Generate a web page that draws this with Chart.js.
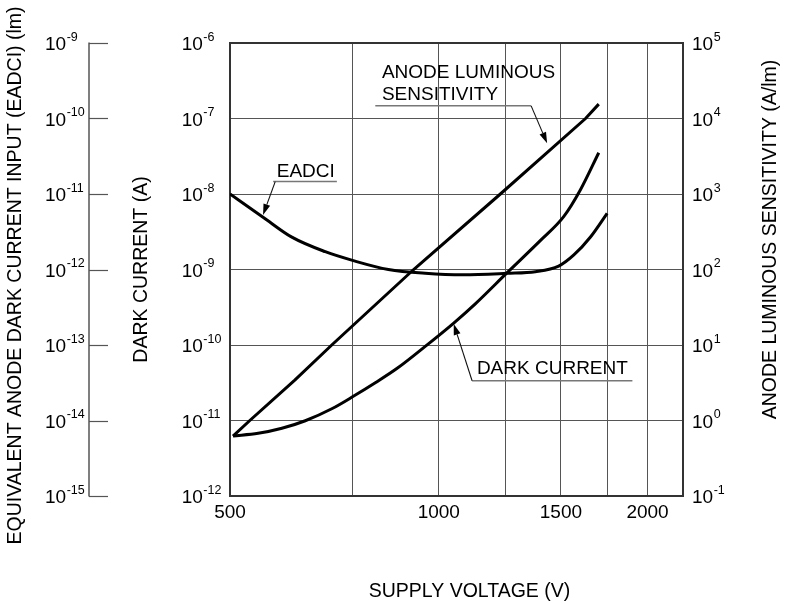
<!DOCTYPE html>
<html>
<head>
<meta charset="utf-8">
<script src="https://cdn.jsdelivr.net/npm/chart.js@4/dist/chart.umd.min.js"></script>
<style>
html,body{margin:0;padding:0;background:#fff;}
#wrap{width:788px;height:604px;}
</style>
</head>
<body>
<div id="wrap"><canvas id="c" width="788" height="604"></canvas></div>
<script>
// ---------- data ----------
const X_GRID = [500, 750, 1000, 1250, 1500, 1750, 2000, 2250];
const X_LABELS = [500, 1000, 1500, 2000];
const DARK_DECADES = [1e-12, 1e-11, 1e-10, 1e-9, 1e-8, 1e-7, 1e-6];
const EADCI_DECADES = [1e-15, 1e-14, 1e-13, 1e-12, 1e-11, 1e-10, 1e-9];
const ALS_DECADES = [1e-1, 1e0, 1e1, 1e2, 1e3, 1e4, 1e5];

// Anode luminous sensitivity (A/lm)
const alsVoltage = [505, 534, 620, 701, 920, 1227, 1628, 1701];
const alsValues  = [0.62, 1.0, 3.43, 10, 100, 1000, 10000, 15500];

// Dark current (A)
const darkVoltage = [505, 549, 594, 642, 701, 753, 810, 871, 960, 1050, 1129, 1254, 1402, 1514, 1600, 1701];
const darkValues  = [6.24e-12, 6.76e-12, 7.89e-12, 9.93e-12, 1.43e-11, 2.09e-11, 3.16e-11, 4.91e-11, 9.89e-11, 1.94e-10, 3.51e-10, 9.02e-10, 2.43e-9, 5.01e-9, 1.13e-8, 3.52e-8];

// EADCI (lm)
const eadciVoltage = [500, 558, 614, 686, 753, 846, 956, 1085, 1254, 1378, 1489, 1566, 1656, 1749];
const eadciValues  = [1.0e-11, 4.93e-12, 2.68e-12, 1.72e-12, 1.31e-12, 1.0e-12, 8.9e-13, 8.5e-13, 8.9e-13, 9.35e-13, 1.11e-12, 1.56e-12, 2.72e-12, 5.55e-12];

// Axis titles
const TITLE_X = 'SUPPLY VOLTAGE (V)';
const TITLE_DARK = 'DARK CURRENT (A)';
const TITLE_EADCI = 'EQUIVALENT ANODE DARK CURRENT INPUT (EADCI) (lm)';
const TITLE_ALS = 'ANODE LUMINOUS SENSITIVITY (A/lm)';

// Curve call-outs (anchors in data units: voltage, dark-current axis)
const CALLOUTS = [
  { lines: ['ANODE LUMINOUS', 'SENSITIVITY'], textX: 828, textY: [3.41e-7, 1.76e-7],
    underline: [810, 1359, 1.47e-7], arrowFrom: [1359, 1.47e-7], arrowTo: [1433, 4.7e-8] },
  { lines: ['EADCI'], textX: 584, textY: [1.66e-8],
    underline: [577, 713, 1.46e-8], arrowFrom: [581, 1.46e-8], arrowTo: [558, 5.27e-9] },
  { lines: ['DARK CURRENT'], textX: 1135, textY: [4.13e-11],
    underline: [1117, 1902, 3.36e-11], arrowFrom: [1117, 3.36e-11], arrowTo: [1051, 1.9e-10] }
];

// ---------- helpers ----------
function pts(xs, ys) { return xs.map((x, i) => ({x: x, y: ys[i]})); }
function fixTicks(list) { return function (scale) { scale.ticks = list.map(v => ({value: v})); }; }

const FONT = "'Liberation Sans', Arial, Helvetica, sans-serif";
Chart.defaults.font.family = FONT;
Chart.defaults.font.size = 19;
Chart.defaults.color = '#000';

const GRID = '#555';
const FRAME = '#333';

// power-of-ten tick labels with a real superscript exponent, placed by the log scales
function drawPowLabels(ctx, scale, xLeft) {
  scale.ticks.forEach(t => {
    const py = scale.getPixelForValue(t.value);
    const e = String(Math.round(Math.log10(t.value)));
    ctx.font = '19px ' + FONT;
    ctx.textAlign = 'left';
    ctx.textBaseline = 'alphabetic';
    ctx.fillText('10', xLeft, py + 7);
    const w = ctx.measureText('10').width;
    ctx.font = '12.5px ' + FONT;
    ctx.fillText(e, xLeft + w + 0.5, py - 2.5);
  });
}

const overlay = {
  id: 'overlay',
  afterDraw(chart) {
    const {ctx, chartArea, scales} = chart;
    const sx = scales.x, sy = scales.y, sE = scales.yE, s2 = scales.y2;
    ctx.save();

    // EADCI axis: vertical line with tick marks pointing right
    const axX = sE.left + 44, tickLen = 19;
    ctx.strokeStyle = '#555';
    ctx.lineWidth = 1.5;
    ctx.beginPath();
    ctx.moveTo(axX, sE.getPixelForValue(EADCI_DECADES[0]) + 0.5);
    ctx.lineTo(axX, sE.getPixelForValue(EADCI_DECADES[EADCI_DECADES.length - 1]) - 0.5);
    ctx.stroke();
    ctx.lineWidth = 1.2;
    EADCI_DECADES.forEach(v => {
      const py = Math.round(sE.getPixelForValue(v)) + 0.5;
      ctx.beginPath(); ctx.moveTo(axX, py); ctx.lineTo(axX + tickLen, py); ctx.stroke();
    });

    // tick labels of the three logarithmic axes
    ctx.fillStyle = '#000';
    drawPowLabels(ctx, sE, sE.left);
    drawPowLabels(ctx, sy, sy.left);
    drawPowLabels(ctx, s2, s2.left + 9);

    // axis titles
    ctx.fillStyle = '#000';
    ctx.font = '19.5px ' + FONT;
    ctx.textAlign = 'center';
    ctx.textBaseline = 'middle';
    const midY = (chartArea.top + chartArea.bottom) / 2;
    ctx.fillText(TITLE_X, (chartArea.left + chartArea.right) / 2 + 13, sx.bottom - 12.5);
    const rot = (text, cx, cy) => {
      ctx.save(); ctx.translate(cx, cy); ctx.rotate(-Math.PI / 2); ctx.fillText(text, 0, 0); ctx.restore();
    };
    rot(TITLE_DARK, sy.left - 40, midY);
    rot(TITLE_EADCI, sE.left - 29, midY + 6);
    rot(TITLE_ALS, s2.right - 17, midY - 30);

    // call-outs
    ctx.font = '19px ' + FONT;
    CALLOUTS.forEach(c => {
      ctx.textAlign = 'left';
      ctx.textBaseline = 'alphabetic';
      ctx.fillStyle = '#000';
      c.lines.forEach((t, i) => ctx.fillText(t, sx.getPixelForValue(c.textX), sy.getPixelForValue(c.textY[i])));
      const uy = sy.getPixelForValue(c.underline[2]);
      ctx.strokeStyle = '#777';
      ctx.lineWidth = 1.5;
      ctx.beginPath();
      ctx.moveTo(sx.getPixelForValue(c.underline[0]), uy);
      ctx.lineTo(sx.getPixelForValue(c.underline[1]), uy);
      ctx.stroke();
      const x0 = sx.getPixelForValue(c.arrowFrom[0]), y0 = sy.getPixelForValue(c.arrowFrom[1]);
      const x1 = sx.getPixelForValue(c.arrowTo[0]), y1 = sy.getPixelForValue(c.arrowTo[1]);
      const ang = Math.atan2(y1 - y0, x1 - x0);
      const hl = 11, hw = 3.5;
      ctx.strokeStyle = '#111';
      ctx.lineWidth = 1.1;
      ctx.beginPath();
      ctx.moveTo(x0, y0);
      ctx.lineTo(x1 - hl * Math.cos(ang), y1 - hl * Math.sin(ang));
      ctx.stroke();
      ctx.fillStyle = '#000';
      ctx.beginPath();
      ctx.moveTo(x1, y1);
      ctx.lineTo(x1 - hl * Math.cos(ang) + hw * Math.sin(ang), y1 - hl * Math.sin(ang) - hw * Math.cos(ang));
      ctx.lineTo(x1 - hl * Math.cos(ang) - hw * Math.sin(ang), y1 - hl * Math.sin(ang) + hw * Math.cos(ang));
      ctx.closePath();
      ctx.fill();
    });
    ctx.restore();
  }
};

const lineStyle = {borderColor: '#000', backgroundColor: '#000', borderWidth: 3, pointRadius: 0, pointHoverRadius: 0, fill: false};

new Chart(document.getElementById('c'), {
  type: 'line',
  data: {
    datasets: [
      Object.assign({label: 'Anode Luminous Sensitivity', data: pts(alsVoltage, alsValues), xAxisID: 'x', yAxisID: 'y2', tension: 0}, lineStyle),
      Object.assign({label: 'Dark Current', data: pts(darkVoltage, darkValues), xAxisID: 'x', yAxisID: 'y', cubicInterpolationMode: 'monotone'}, lineStyle),
      Object.assign({label: 'EADCI', data: pts(eadciVoltage, eadciValues), xAxisID: 'x', yAxisID: 'yE', cubicInterpolationMode: 'monotone'}, lineStyle)
    ]
  },
  options: {
    responsive: false,
    animation: false,
    devicePixelRatio: 1,
    layout: {padding: {left: 45, right: 0, top: 0, bottom: 0}},
    plugins: {legend: {display: false}, tooltip: {enabled: false}, title: {display: false}},
    events: [],
    scales: {
      x: {
        type: 'logarithmic', position: 'bottom', min: 500, max: 2250,
        afterBuildTicks: fixTicks(X_GRID),
        afterFit: s => { s.height = 108; },
        ticks: {autoSkip: false, maxRotation: 0, minRotation: 0, padding: 5, color: '#000',
                callback: v => X_LABELS.includes(v) ? String(v) : ''},
        grid: {color: GRID, lineWidth: 1, drawTicks: false},
        border: {display: true, color: FRAME, width: 2}
      },
      xTop: {
        type: 'linear', position: 'top', min: 0, max: 1,
        afterFit: s => { s.height = 43; },
        ticks: {display: false},
        grid: {drawOnChartArea: false, drawTicks: false},
        border: {display: true, color: FRAME, width: 2}
      },
      yE: {
        type: 'logarithmic', position: 'left', weight: 2, min: 1e-15, max: 1e-9,
        afterBuildTicks: fixTicks(EADCI_DECADES),
        afterFit: s => { s.width = 136.7; },
        ticks: {display: false},
        grid: {display: false},
        border: {display: false}
      },
      y: {
        type: 'logarithmic', position: 'left', weight: 1, min: 1e-12, max: 1e-6,
        afterBuildTicks: fixTicks(DARK_DECADES),
        afterFit: s => { s.width = 48.3; },
        ticks: {display: false},
        grid: {color: GRID, lineWidth: 1, drawTicks: false},
        border: {display: true, color: FRAME, width: 2}
      },
      y2: {
        type: 'logarithmic', position: 'right', min: 1e-1, max: 1e5,
        afterBuildTicks: fixTicks(ALS_DECADES),
        afterFit: s => { s.width = 105; },
        ticks: {display: false},
        grid: {drawOnChartArea: false, drawTicks: false},
        border: {display: true, color: FRAME, width: 2}
      }
    }
  },
  plugins: [overlay]
});
</script>
</body>
</html>
